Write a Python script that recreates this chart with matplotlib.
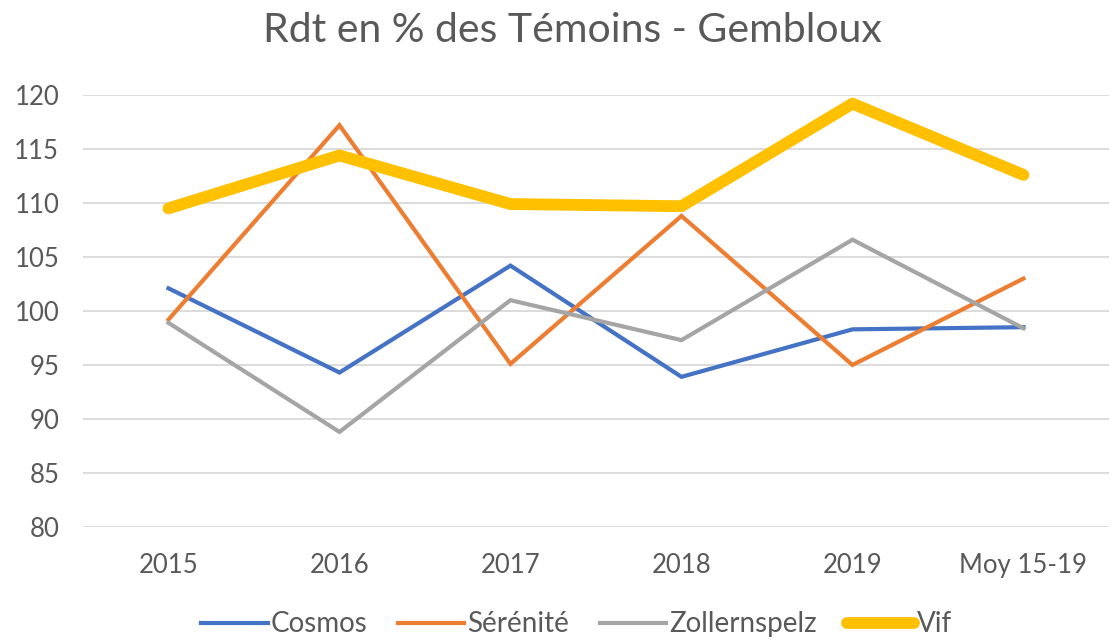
import matplotlib.pyplot as plt

# valeurs
annees = ['2015', '2016', '2017', '2018', '2019', 'Moy 15-19']
cosmos = [102.1, 94.3, 104.2, 93.9, 98.3, 98.5]
serenite = [99.2, 117.2, 95.1, 108.8, 95.0, 103.0]
zollernspelz = [98.9, 88.8, 101.0, 97.3, 106.6, 98.4]
vif = [109.5, 114.4, 109.9, 109.7, 119.2, 112.6]

plt.rcParams['font.family'] = ['Lato', 'DejaVu Sans']

fig = plt.figure(figsize=(11.15, 6.4), dpi=100)
ax = fig.add_axes([0.0744, 0.1766, 0.9202, 0.675])

x = range(len(annees))
ax.plot(x, cosmos, color='#4472C4', lw=3, label='Cosmos', solid_joinstyle='miter')
ax.plot(x, serenite, color='#ED7D31', lw=3, label='Sérénité', solid_joinstyle='miter')
ax.plot(x, zollernspelz, color='#A5A5A5', lw=3, label='Zollernspelz', solid_joinstyle='miter')
ax.plot(x, vif, color='#FFC000', lw=8.5, label='Vif', solid_capstyle='round', solid_joinstyle='round')

ax.set_xlim(-0.5, len(annees) - 0.5)
ax.set_ylim(80, 120)
ax.set_yticks(range(80, 121, 5))
ax.set_xticks(list(x))
ax.set_xticklabels(annees)
ax.grid(axis='y', color='#D9D9D9', lw=1.3)
ax.set_axisbelow(True)
for s in ax.spines.values():
    s.set_visible(False)
ax.tick_params(length=0, labelsize=18.5, colors='#595959')
ax.tick_params(axis='x', pad=19)
ax.tick_params(axis='y', pad=17)

fig.suptitle('Rdt en % des Témoins - Gembloux', x=0.513, y=0.982, fontsize=29.5, color='#595959')

fig.legend(loc='lower center', ncol=4, frameon=False, fontsize=20, bbox_to_anchor=(0.517, -0.035),
           handlelength=2.4, handletextpad=0.1, columnspacing=1.1, labelcolor='#595959')

plt.savefig('out.png', dpi=100)
